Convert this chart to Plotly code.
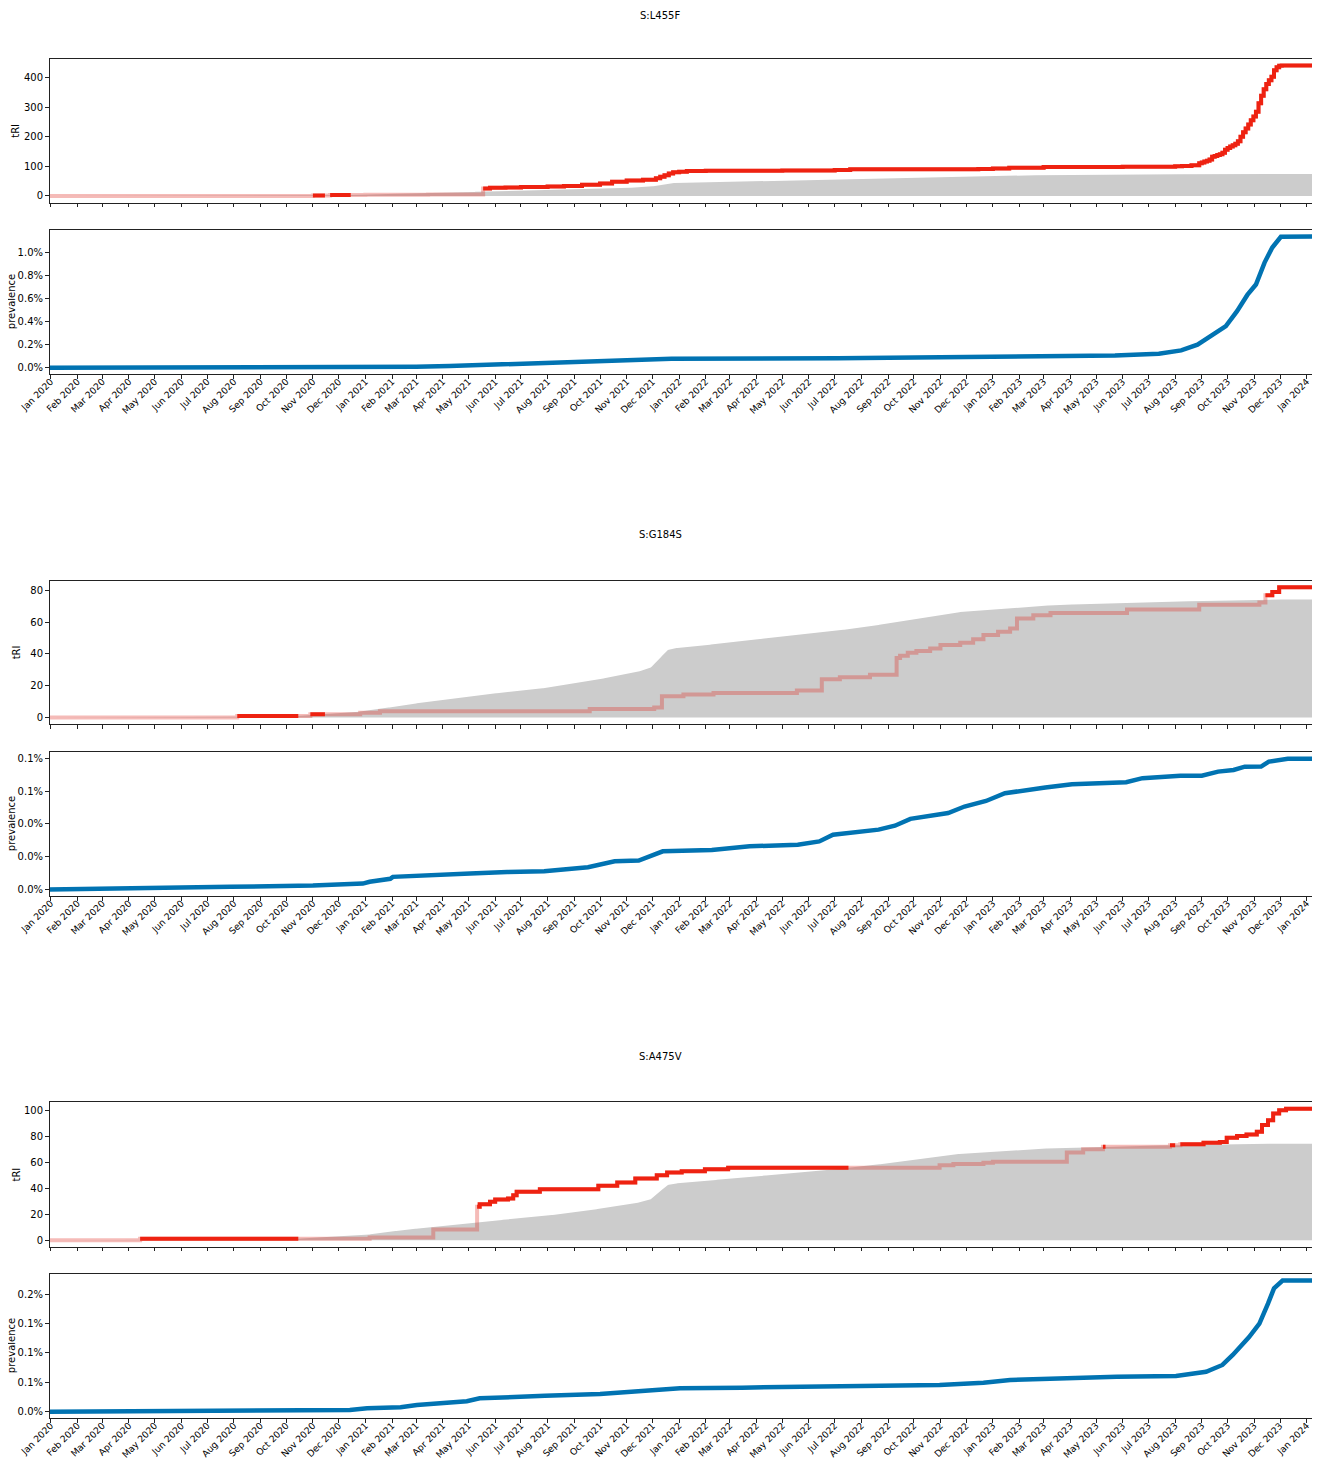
import numpy as np
import pandas as pd
import plotly.graph_objects as go

# ---------------- data ----------------
x_start = "2019-12-30 14:00"
x_end = "2024-01-11 12:00"

mutations = ["S:L455F", "S:G184S", "S:A475V"]

# expected / background tRI (grey area), shared shape
baseline_dates = ["2019-12-30", "2020-09-15", "2020-10-15", "2020-11-15", "2020-12-15", "2021-01-15",
                  "2021-02-10", "2021-03-21", "2021-04-29", "2021-06-06", "2021-07-15", "2021-08-23",
                  "2021-10-01", "2021-11-08", "2021-11-28", "2021-12-06", "2021-12-13", "2021-12-19",
                  "2021-12-25", "2022-01-06", "2022-01-25", "2022-03-05", "2022-04-13", "2022-05-22",
                  "2022-06-29", "2022-08-07", "2022-09-15", "2022-11-12", "2023-01-09", "2023-03-09",
                  "2023-05-06", "2023-07-03", "2023-08-29", "2023-10-26", "2024-01-12"]
baseline_tri = [0, 0, 1, 2, 3, 5,
                7.5, 10.2, 13.3, 15.4, 17.5, 20.6,
                24.2, 27.9, 31, 35, 39.4, 42.5,
                43.5, 44, 45, 47.7, 49.8, 51.9,
                54.4, 57, 60.5, 65.8, 68.5, 70.6,
                71.7, 72.7, 73.3, 74.2, 74.2]

# S:L455F
l455f_tri_dates = ["2019-12-30", "2020-11-01", "2020-11-21", "2021-01-01", "2021-03-15", "2021-05-18",
                   "2021-05-26", "2021-06-13", "2021-07-01", "2021-08-01", "2021-08-20", "2021-09-10",
                   "2021-10-01", "2021-10-15", "2021-11-01", "2021-11-20", "2021-12-05", "2021-12-10",
                   "2021-12-15", "2021-12-20", "2021-12-25", "2022-01-01", "2022-01-10", "2022-02-01",
                   "2022-05-01", "2022-07-01", "2022-07-19", "2022-12-15", "2023-01-01", "2023-01-20",
                   "2023-03-01", "2023-06-01", "2023-08-01", "2023-08-09", "2023-08-20", "2023-08-29",
                   "2023-09-01", "2023-09-04", "2023-09-07", "2023-09-10", "2023-09-13", "2023-09-16",
                   "2023-09-19", "2023-09-22", "2023-09-25", "2023-09-28", "2023-10-01", "2023-10-04",
                   "2023-10-07", "2023-10-10", "2023-10-13", "2023-10-16", "2023-10-19", "2023-10-22",
                   "2023-10-25", "2023-10-28", "2023-10-31", "2023-11-03", "2023-11-06", "2023-11-09",
                   "2023-11-12", "2023-11-15", "2023-11-18", "2023-11-21", "2023-11-24", "2023-11-27",
                   "2023-11-30", "2023-12-03", "2024-01-12"]
l455f_tri = [0, 2, 3, 4, 5, 25,
             28, 29, 30, 32, 34, 38,
             42, 48, 52, 55, 60, 65,
             70, 76, 80, 82, 84, 85,
             86, 88, 90, 91, 93, 95,
             98, 99, 100, 101, 104, 110,
             113, 116, 119, 123, 132, 135,
             138, 141, 146, 156, 162, 167,
             171, 176, 185, 200, 215, 228,
             241, 255, 268, 284, 313, 338,
             360, 378, 390, 402, 424, 434,
             439, 440, 440]
l455f_prev_dates = ["2019-12-30", "2020-06-01", "2020-11-01", "2021-01-01", "2021-03-01", "2021-04-09",
                    "2021-06-06", "2021-08-16", "2021-10-20", "2021-12-01", "2021-12-23", "2022-07-04",
                    "2023-01-14", "2023-05-23", "2023-07-13", "2023-08-08", "2023-08-27", "2023-09-16",
                    "2023-09-29", "2023-10-12", "2023-10-24", "2023-11-03", "2023-11-13", "2023-11-22",
                    "2023-12-02", "2024-01-12"]
l455f_prev = [0, 0.001, 0.002, 0.004, 0.008, 0.014,
              0.028, 0.043, 0.057, 0.068, 0.078, 0.083,
              0.092, 0.106, 0.121, 0.15, 0.2, 0.30,
              0.36, 0.49, 0.63, 0.72, 0.91, 1.04,
              1.133, 1.135]  # percent

# S:G184S
g184s_tri_dates = ["2019-12-30", "2020-08-05", "2020-10-29", "2020-12-26", "2021-01-18", "2021-09-19",
                   "2021-12-03", "2021-12-12", "2022-01-06", "2022-02-10", "2022-05-18", "2022-06-16",
                   "2022-07-07", "2022-08-11", "2022-09-11", "2022-09-15", "2022-09-24", "2022-10-04",
                   "2022-10-20", "2022-11-01", "2022-11-24", "2022-12-09", "2022-12-21", "2023-01-07",
                   "2023-01-21", "2023-01-29", "2023-02-17", "2023-03-09", "2023-06-06", "2023-08-29",
                   "2023-11-07", "2023-11-14", "2023-11-22", "2023-11-30", "2024-01-12"]
g184s_tri = [0, 1, 2, 3, 4, 5.3,
             6.3, 13.3, 14.4, 15.4, 17, 24,
             25.4, 26.9, 37.5, 38.8, 40.8, 41.9,
             43.5, 45.6, 47, 49.2, 51.9, 54,
             56, 62.3, 64.4, 65.8, 68, 71,
             72.3, 76.9, 79, 82, 82]
g184s_prev_dates = ["2019-12-30", "2020-05-01", "2020-06-11", "2020-07-28", "2020-11-01", "2020-12-02",
                    "2020-12-29", "2021-01-06", "2021-01-30", "2021-02-02", "2021-03-17", "2021-05-03",
                    "2021-06-15", "2021-07-28", "2021-09-17", "2021-10-18", "2021-11-15", "2021-12-13",
                    "2022-02-08", "2022-03-24", "2022-05-19", "2022-06-13", "2022-06-29", "2022-08-21",
                    "2022-09-09", "2022-09-27", "2022-11-10", "2022-11-29", "2022-12-24", "2023-01-15",
                    "2023-03-03", "2023-04-03", "2023-06-05", "2023-06-24", "2023-08-07", "2023-09-01",
                    "2023-09-20", "2023-10-08", "2023-10-21", "2023-11-09", "2023-11-18", "2023-12-10",
                    "2024-01-12"]
g184s_prev = [0, 0.0006, 0.001, 0.0016, 0.0024, 0.0028,
              0.0036, 0.0047, 0.0065, 0.0077, 0.0089, 0.0097,
              0.0107, 0.0111, 0.0136, 0.0172, 0.0176, 0.0233,
              0.0241, 0.0263, 0.0273, 0.0293, 0.0334, 0.0365,
              0.0389, 0.0431, 0.0466, 0.0506, 0.054, 0.0587,
              0.0622, 0.0642, 0.0654, 0.0679, 0.0694, 0.0694,
              0.0719, 0.0729, 0.0749, 0.075, 0.078, 0.0797,
              0.0797]

# S:A475V
a475v_tri_dates = ["2019-12-30", "2020-04-14", "2021-01-06", "2021-03-21", "2021-05-11", "2021-05-14",
                   "2021-05-26", "2021-06-01", "2021-06-16", "2021-06-22", "2021-06-26", "2021-07-23",
                   "2021-09-29", "2021-10-21", "2021-11-11", "2021-12-06", "2021-12-18", "2022-01-04",
                   "2022-01-31", "2022-02-27", "2022-10-31", "2022-11-16", "2022-12-21", "2023-01-01",
                   "2023-03-28", "2023-04-16", "2023-05-09", "2023-07-26", "2023-08-07", "2023-09-03",
                   "2023-09-22", "2023-09-30", "2023-10-12", "2023-10-23", "2023-11-04", "2023-11-10",
                   "2023-11-17", "2023-11-23", "2023-11-30", "2023-12-08", "2024-01-12"]
a475v_tri = [0, 1, 2.1, 8.2, 25.6, 27.7,
             29.5, 31.3, 32, 34.6, 37.2, 39.2,
             41.8, 44.4, 47.4, 50, 52, 53,
             54.6, 55.6, 57.7, 58.5, 59.5, 60.3,
             67.4, 70, 71.8, 73, 73.8, 74.9,
             75.6, 78.7, 80.2, 81.3, 83.3, 88.5,
             92.3, 97.4, 100, 101, 101]
a475v_prev_dates = ["2019-12-30", "2020-03-15", "2020-11-15", "2020-12-14", "2021-01-03", "2021-02-11",
                    "2021-03-02", "2021-04-06", "2021-04-29", "2021-05-14", "2021-06-06", "2021-06-18",
                    "2021-07-29", "2021-10-01", "2021-11-05", "2021-12-10", "2022-01-02", "2022-03-15",
                    "2022-05-15", "2022-07-19", "2022-10-31", "2022-12-21", "2023-01-21", "2023-03-28",
                    "2023-05-25", "2023-08-02", "2023-08-17", "2023-09-06", "2023-09-25", "2023-10-07",
                    "2023-10-26", "2023-11-07", "2023-11-17", "2023-11-24", "2023-12-04", "2024-01-12"]
a475v_prev = [0, 0.0005, 0.001, 0.003, 0.006, 0.0075,
              0.0114, 0.0143, 0.018, 0.0228, 0.0245, 0.025,
              0.027, 0.030, 0.034, 0.039, 0.040, 0.041,
              0.042, 0.0438, 0.0455, 0.0494, 0.054, 0.0569,
              0.0596, 0.0608, 0.064, 0.068, 0.0796, 0.0966,
              0.127, 0.15, 0.184, 0.21, 0.2232, 0.2232]

tri_ticks = [[0, 100, 200, 300, 400], [0, 20, 40, 60, 80], [0, 20, 40, 60, 80, 100]]
prev_ticks = [[0.0, 0.2, 0.4, 0.6, 0.8, 1.0], [0.0, 0.02, 0.04, 0.06, 0.08], [0.0, 0.05, 0.10, 0.15, 0.20]]

groups = [
    (l455f_tri_dates, l455f_tri, l455f_prev_dates, l455f_prev),
    (g184s_tri_dates, g184s_tri, g184s_prev_dates, g184s_prev),
    (a475v_tri_dates, a475v_tri, a475v_prev_dates, a475v_prev),
]

# ---------------- styling ----------------
PAGE_W, PAGE_H = 1320, 1458
OFF = 8  # browser body margin
W, H = PAGE_W - OFF, PAGE_H - OFF
RED = "rgb(238,34,17)"
ROSY = "rgba(225,45,35,0.32)"
GREY = "rgb(204,204,204)"
BLUE = "#0173b2"
AX = "#222222"
FONT = dict(family="DejaVu Sans", size=10, color="black")
XFONT = dict(family="DejaVu Sans", size=9.2, color="black")

# panel pixel boxes in page coordinates (top, bottom)
tri_boxes = [(59, 202.5), (580.7, 724), (1102.3, 1246.7)]
prev_boxes = [(230, 374.3), (752.3, 896), (1274, 1418.3)]
title_y = [15, 534, 1056]
x_dom = [(49.5 - OFF) / W, (1315.7 - OFF) / W]


def py(p):
    return 1 - (p - OFF) / H


def px(p):
    return (p - OFF) / W


def ydom(box):
    return [py(box[1]), py(box[0])]


def to_days(dates):
    return pd.to_datetime(pd.Series(dates)).values.astype("datetime64[D]").astype(np.int64)


grid = pd.date_range("2019-12-30", "2024-01-12", freq="D")
grid_d = grid.values.astype("datetime64[D]").astype(np.int64)
base_daily = np.interp(grid_d, to_days(baseline_dates), baseline_tri)

fig = go.Figure()
annotations = []
layout_axes = {}

for g, (td, tv, pd_, pv) in enumerate(groups):
    ia = 2 * g + 1  # tRI axis index
    ib = 2 * g + 2  # prevalence axis index
    xa = "x" if ia == 1 else f"x{ia}"
    ya = "y" if ia == 1 else f"y{ia}"
    xb, yb = f"x{ib}", f"y{ib}"

    tdd = to_days(td)
    tvv = np.array(tv, dtype=float)
    idx = np.clip(np.searchsorted(tdd, grid_d, side="right") - 1, 0, len(tvv) - 1)
    red_daily = tvv[idx]
    above = red_daily > base_daily + 1e-9
    ext = above.copy()
    ext[1:] |= above[:-1]
    red_over = np.where(ext, red_daily, np.nan)

    fig.add_trace(go.Scatter(x=grid, y=base_daily, xaxis=xa, yaxis=ya, mode="lines",
                             line=dict(width=0, color=GREY), fill="tozeroy", fillcolor=GREY,
                             hoverinfo="skip"))
    fig.add_trace(go.Scatter(x=grid, y=red_daily, xaxis=xa, yaxis=ya, mode="lines",
                             line=dict(width=4, color=ROSY, shape="hv"), hoverinfo="skip"))
    fig.add_trace(go.Scatter(x=grid, y=red_over, xaxis=xa, yaxis=ya, mode="lines",
                             line=dict(width=4, color=RED, shape="hv"), connectgaps=False,
                             hoverinfo="skip"))
    fig.add_trace(go.Scatter(x=pd.to_datetime(pd_), y=pv, xaxis=xb, yaxis=yb, mode="lines",
                             line=dict(width=4.5, color=BLUE), hoverinfo="skip"))

    tmax = max(max(tv), max(baseline_tri))
    tmin = 0
    pmax = max(pv)
    common_x = dict(domain=x_dom, range=[x_start, x_end], showgrid=False, zeroline=False,
                    showline=True, mirror=True, linecolor=AX, linewidth=1, ticks="outside",
                    ticklen=3.5, tickwidth=1, tickcolor=AX, dtick="M1", tick0="2020-01-01",
                    tickformat="%b %Y", tickangle=-45, tickfont=XFONT, automargin=False)
    layout_axes["xaxis" if ia == 1 else f"xaxis{ia}"] = dict(common_x, anchor=ya, showticklabels=False)
    layout_axes[f"xaxis{ib}"] = dict(common_x, anchor=yb, showticklabels=True, ticklabelstandoff=-6)

    common_y = dict(showgrid=False, zeroline=False, showline=True, mirror=True, linecolor=AX,
                    linewidth=1, ticks="outside", ticklen=3.5, tickwidth=1, tickcolor=AX,
                    tickfont=FONT, fixedrange=True, automargin=False)
    span = tmax - tmin
    layout_axes["yaxis" if ia == 1 else f"yaxis{ia}"] = dict(
        common_y, domain=ydom(tri_boxes[g]), anchor=xa,
        range=[tmin - 0.05 * span, tmax + 0.05 * span],
        tickvals=tri_ticks[g], ticktext=[str(v) for v in tri_ticks[g]])
    layout_axes[f"yaxis{ib}"] = dict(
        common_y, domain=ydom(prev_boxes[g]), anchor=xb,
        range=[-0.05 * pmax, 1.05 * pmax],
        tickvals=prev_ticks[g], ticktext=[f"{v:.1f}%" for v in prev_ticks[g]])

    annotations.append(dict(text=mutations[g], x=px(PAGE_W / 2), y=py(title_y[g]), xref="paper",
                            yref="paper", showarrow=False, font=FONT, xanchor="center",
                            yanchor="middle"))
    tb = tri_boxes[g]
    annotations.append(dict(text="tRI", x=px(16), y=py((tb[0] + tb[1]) / 2), xref="paper",
                            yref="paper", showarrow=False, font=FONT, textangle=-90,
                            xanchor="center", yanchor="middle"))
    pb = prev_boxes[g]
    annotations.append(dict(text="prevalence", x=px(11), y=py((pb[0] + pb[1]) / 2), xref="paper",
                            yref="paper", showarrow=False, font=FONT, textangle=-90,
                            xanchor="center", yanchor="middle"))

fig.update_layout(width=W, height=H, margin=dict(l=0, r=0, t=0, b=0), showlegend=False,
                  plot_bgcolor="white", paper_bgcolor="white", font=FONT,
                  annotations=annotations, **layout_axes)

fig.write_html("out.html")
